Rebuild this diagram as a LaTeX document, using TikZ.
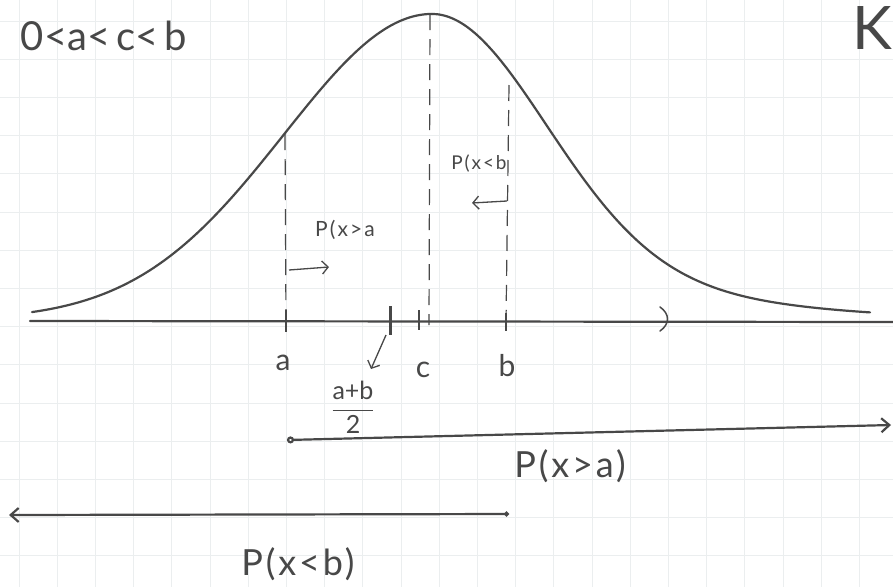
\documentclass[tikz,border=0pt]{standalone}
\usepackage{fontspec}
\setmainfont{Lato}
\usetikzlibrary{arrows.meta}
\definecolor{SketchInk}{HTML}{484848}
\definecolor{SketchGrid}{HTML}{EBEEEF}
\tikzset{
  ink/.style={draw=SketchInk, line width=2.2pt, line cap=round},
  guide/.style={draw=SketchInk, line width=1.2pt, dash pattern=on 16pt off 9pt},
  tickmark/.style={draw=SketchInk, line width=2pt},
  hint/.style={-{Straight Barb[length=6pt,width=13pt]}, draw=SketchInk, line width=1.3pt},
  ray/.style={draw=SketchInk, line width=2.2pt},
  scribble/.style={text=SketchInk, inner sep=0pt},
}

\begin{document}
\begin{tikzpicture}[x=1pt,y=-1pt]
  \useasboundingbox (0,0) rectangle (893,587);
  \fill[white] (0,0) rectangle (893,587);
  \foreach \gx in {0,...,22}
    \draw[SketchGrid, line width=0.8pt] ({19+38.2*\gx},0) -- ({19+38.2*\gx},587);
  \foreach \gy in {0,...,14}
    \draw[SketchGrid, line width=0.8pt] (0,{21+38.2*\gy}) -- (893,{21+38.2*\gy});

  \coordinate (axL) at (30,321);
  \coordinate (axR) at (893,322);
  \draw[ink] (axL) -- (axR);
  \draw[ink, line width=1.5pt] (660,307) .. controls (670,314) and (670,324) .. (660,331);

  \draw[ink] plot[domain=32:432, samples=80, smooth]
    (\x, {320-306*exp(-0.5*((\x-432)/148)^2)});
  \draw[ink] plot[domain=432:870, samples=90, smooth]
    (\x, {320-306*(0.85*exp(-0.5*((\x-432)/112)^2)+0.15*exp(-0.5*((\x-432)/230)^2))});

  \coordinate (pa) at (286,321);
  \coordinate (pm) at (390,322);
  \coordinate (pc) at (419,322);
  \coordinate (pb) at (506,322);
  \draw[tickmark] ([yshift=11pt]pa) -- ([yshift=-11pt]pa);
  \draw[tickmark, line width=3pt] ([yshift=16pt]pm) -- ([yshift=-13pt]pm);
  \draw[tickmark, line width=1.3pt] ([yshift=12pt]pc) -- ([yshift=-8pt]pc);
  \draw[tickmark] ([yshift=9pt]pb) -- ([yshift=-9pt]pb);

  \coordinate (ca) at (285,134);
  \coordinate (cp) at (430,14);
  \coordinate (cq) at (429,325);
  \coordinate (cb) at (509,85);
  \draw[guide] (ca) -- (pa);
  \draw[guide] (cp) -- (cq);
  \draw[guide] (cb) -- (pb);

  \node[scribble, font=\fontsize{40}{46}\selectfont] (order) at (104,36)
    {0<a<\hspace{6pt}c<\hspace{6pt}b};
  \node[scribble, font=\fontsize{60}{68}\selectfont] (corner) at (872,28) {K};

  \node[scribble, font=\fontsize{30}{34}\selectfont] (la) at (283,363) {a};
  \node[scribble, font=\fontsize{30}{34}\selectfont] (lc) at (423,370) {c};
  \node[scribble, font=\fontsize{30}{34}\selectfont] (lb) at (507,366) {b};
  \node[scribble, font=\fontsize{25}{29}\selectfont] (mid) at (353,407)
    {$\displaystyle\frac{\mbox{a+b}}{\mbox{2}}$};
  \coordinate (mS) at (386,335);
  \coordinate (mE) at (371,369);
  \draw[hint] (mS) -- (mE);

  \node[scribble, font=\fontsize{21}{24}\selectfont\addfontfeature{LetterSpace=10}]
    (pgt) at (345,230) {P(x>a};
  \coordinate (pgtS) at (289,270);
  \coordinate (pgtE) at (329,267);
  \draw[hint] (pgtS) -- (pgtE);
  \node[scribble, font=\fontsize{19}{22}\selectfont\addfontfeature{LetterSpace=10}]
    (plt) at (479,164) {P(x<b};
  \coordinate (pltS) at (507,201);
  \coordinate (pltE) at (472,203);
  \draw[hint] (pltS) -- (pltE);

  \coordinate (gS) at (287,440);
  \coordinate (gE) at (891,425);
  \draw[ray, {Circle[open,length=7pt]}-{Straight Barb[length=8pt,width=14pt]}] (gS) -- (gE);
  \node[scribble, font=\fontsize{36}{42}\selectfont\addfontfeature{LetterSpace=8}]
    (bgt) at (570,466) {P(x>a)};

  \coordinate (lS) at (509,514);
  \coordinate (lE) at (9,515);
  \draw[ray, {Circle[open,length=5pt]}-{Straight Barb[length=8pt,width=14pt]}] (lS) -- (lE);
  \node[scribble, font=\fontsize{36}{42}\selectfont\addfontfeature{LetterSpace=8}]
    (blt) at (298,564) {P(x<b)};
\end{tikzpicture}
\end{document}
